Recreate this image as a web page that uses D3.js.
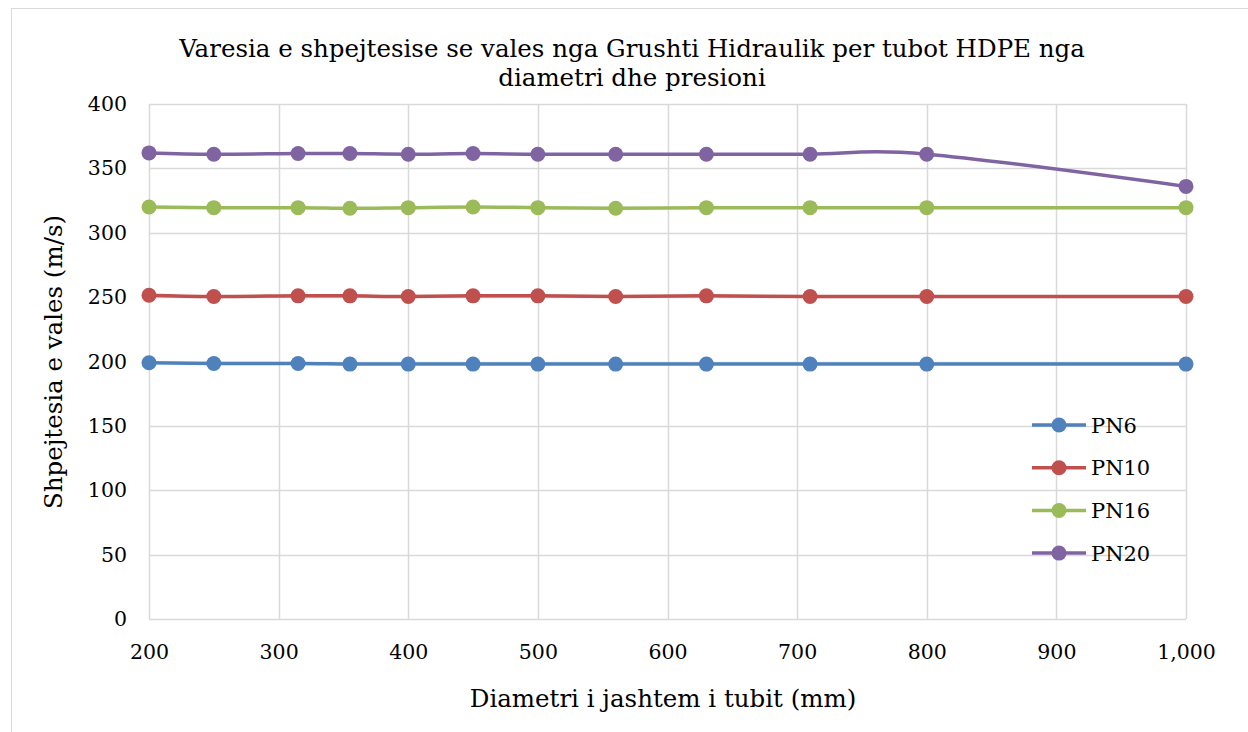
<!DOCTYPE html>
<html>
<head>
<meta charset="utf-8">
<script src="https://cdn.jsdelivr.net/npm/d3@7"></script>
<style>
  html, body { margin: 0; padding: 0; background: #fff; }
  svg { display: block; }
  text { font-family: "DejaVu Serif", "Liberation Serif", serif; fill: #000; }
</style>
</head>
<body>
<svg id="chart" width="1248" height="732"></svg>
<script>
// Outer diameters of the pipes (mm)
const diameters = [200, 250, 315, 355, 400, 450, 500, 560, 630, 710, 800, 1000];

// Wave speed (m/s) for each pressure class
const pn6  = [199, 198.5, 198.5, 198, 198, 198, 198, 198, 198, 198, 198, 198];
const pn10 = [251.5, 250.5, 251, 251, 250.5, 251, 251, 250.5, 251, 250.5, 250.5, 250.5];
const pn16 = [320, 319.5, 319.5, 319, 319.5, 320, 319.5, 319, 319.5, 319.5, 319.5, 319.5];
const pn20 = [362, 361, 361.5, 361.5, 361, 361.5, 361, 361, 361, 361, 361, 336];

const seriesNames = ["PN6", "PN10", "PN16", "PN20"];
const seriesColors = ["#4F81BD", "#C0504D", "#9BBB59", "#8064A2"];

const xTicks = [200, 300, 400, 500, 600, 700, 800, 900, 1000];
const yTicks = [0, 50, 100, 150, 200, 250, 300, 350, 400];

const titleLines = ["Varesia e shpejtesise se vales nga Grushti Hidraulik per tubot HDPE nga", "diametri dhe presioni"];
const xTitle = "Diametri i jashtem i tubit (mm)";
const yTitle = "Shpejtesia e vales (m/s)";

const series = [pn6, pn10, pn16, pn20].map((vals, i) => ({
  name: seriesNames[i],
  color: seriesColors[i],
  points: vals.map((v, j) => ({ x: diameters[j], y: v }))
}));

const FONT = "DejaVu Serif";
const svg = d3.select("#chart");

// Chart frame
svg.append("rect")
  .attr("x", 11.5).attr("y", 8.5)
  .attr("width", 1248).attr("height", 732)
  .attr("fill", "none").attr("stroke", "#d9d9d9").attr("stroke-width", 1);

const plot = { left: 149, right: 1186, top: 104, bottom: 619 };

const x = d3.scaleLinear().domain([200, 1000]).range([plot.left, plot.right]);
const y = d3.scaleLinear().domain([0, 400]).range([plot.bottom, plot.top]);

// Gridlines
const grid = svg.append("g");
grid.selectAll("line.gx").data(xTicks).join("line")
  .attr("x1", d => Math.round(x(d)) + 0.5).attr("x2", d => Math.round(x(d)) + 0.5)
  .attr("y1", plot.top).attr("y2", plot.bottom)
  .attr("stroke", "#d9d9d9").attr("stroke-width", 1.5);
grid.selectAll("line.gy").data(yTicks).join("line")
  .attr("x1", plot.left).attr("x2", plot.right)
  .attr("y1", d => Math.round(y(d)) + 0.5).attr("y2", d => Math.round(y(d)) + 0.5)
  .attr("stroke", "#d9d9d9").attr("stroke-width", 1.5);

// Axes (labels only; grid carries the lines)
const fmt = d3.format(",");
const xAxis = svg.append("g")
  .attr("transform", `translate(0,${plot.bottom})`)
  .call(d3.axisBottom(x).tickValues(xTicks).tickFormat(fmt).tickSize(0).tickPadding(25));
xAxis.select(".domain").remove();
xAxis.attr("font-family", FONT).attr("font-size", 20.5);
xAxis.selectAll("text").attr("fill", "#000");

const yAxis = svg.append("g")
  .attr("transform", `translate(${plot.left},0)`)
  .call(d3.axisLeft(y).tickValues(yTicks).tickFormat(fmt).tickSize(0).tickPadding(22));
yAxis.select(".domain").remove();
yAxis.attr("font-family", FONT).attr("font-size", 20.5);
yAxis.selectAll("text").attr("fill", "#000");

// Series lines and markers
const line = d3.line()
  .x(d => x(d.x)).y(d => y(d.y))
  .curve(d3.curveCardinal.tension(0));

const sg = svg.append("g").selectAll("g").data(series).join("g");
sg.append("path")
  .attr("d", d => line(d.points))
  .attr("fill", "none")
  .attr("stroke", d => d.color)
  .attr("stroke-width", 3.5)
  .attr("stroke-linejoin", "round");
sg.selectAll("circle").data(d => d.points.map(p => ({ ...p, color: d.color }))).join("circle")
  .attr("cx", d => x(d.x)).attr("cy", d => y(d.y))
  .attr("r", 7.5)
  .attr("fill", d => d.color);

// Title
svg.append("text")
  .attr("text-anchor", "middle")
  .attr("font-family", FONT)
  .attr("font-size", 24.5)
  .selectAll("tspan").data(titleLines).join("tspan")
  .attr("x", 632).attr("y", (d, i) => 57 + i * 29)
  .text(d => d);

// Axis titles
svg.append("text")
  .attr("x", 663).attr("y", 707)
  .attr("text-anchor", "middle")
  .attr("font-family", FONT)
  .attr("font-size", 24.5)
  .text(xTitle);

svg.append("text")
  .attr("transform", "translate(62,362) rotate(-90)")
  .attr("text-anchor", "middle")
  .attr("font-family", FONT)
  .attr("font-size", 24.5)
  .text(yTitle);

// Legend
const legend = svg.append("g");
const lg = legend.selectAll("g").data(series).join("g")
  .attr("transform", (d, i) => `translate(1032,${425 + i * 42.7})`);
lg.append("line")
  .attr("x1", 0).attr("x2", 54).attr("y1", 0).attr("y2", 0)
  .attr("stroke", d => d.color).attr("stroke-width", 3.5);
lg.append("circle")
  .attr("cx", 27).attr("cy", 0).attr("r", 7.5)
  .attr("fill", d => d.color);
lg.append("text")
  .attr("x", 59).attr("y", 0).attr("dy", "0.36em")
  .attr("font-family", FONT)
  .attr("font-size", 21)
  .text(d => d.name);
</script>
</body>
</html>
